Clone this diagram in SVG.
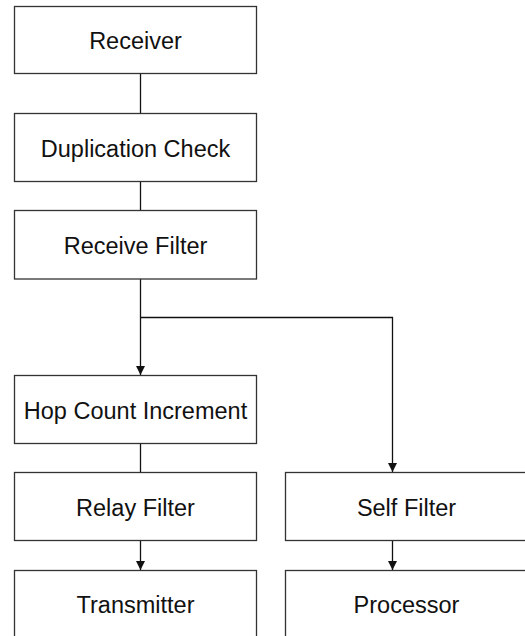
<svg xmlns="http://www.w3.org/2000/svg" width="525" height="636" viewBox="0 0 525 636">
<style>
.box{fill:#fff;stroke:#333;stroke-width:1.3}
.lbl{font-family:"Liberation Sans",Arial,sans-serif;font-size:23.5px;fill:#111;text-anchor:middle}
.con{fill:none;stroke:#111;stroke-width:1.3}
</style>
<defs>
<marker id="arr" viewBox="0 0 10 10" refX="10" refY="5" markerWidth="9" markerHeight="9" markerUnits="userSpaceOnUse" orient="auto">
<path d="M0,0 L10,5 L0,10 z" fill="#111"/>
</marker>
</defs>
<rect width="525" height="636" fill="#fff"/>
<g id="connectors">
<line class="con" x1="140.5" y1="73.5" x2="140.5" y2="113.5"/>
<line class="con" x1="140.5" y1="181.5" x2="140.5" y2="210.5"/>
<line class="con" x1="140.5" y1="279" x2="140.5" y2="375" marker-end="url(#arr)"/>
<polyline class="con" points="140.5,317.5 392.5,317.5 392.5,472" marker-end="url(#arr)"/>
<line class="con" x1="140.5" y1="443.5" x2="140.5" y2="472.5"/>
<line class="con" x1="140.5" y1="540.5" x2="140.5" y2="570" marker-end="url(#arr)"/>
<line class="con" x1="392.5" y1="540.5" x2="392.5" y2="570" marker-end="url(#arr)"/>
</g>
<g id="receiver"><rect class="box" x="14.5" y="6.5" width="242" height="67"/><text class="lbl" x="135.5" y="49">Receiver</text></g>
<g id="duplication-check"><rect class="box" x="14.5" y="113.5" width="242" height="68"/><text class="lbl" x="135.5" y="156.5">Duplication Check</text></g>
<g id="receive-filter"><rect class="box" x="14.5" y="210.5" width="242" height="68.5"/><text class="lbl" x="135.5" y="253.5">Receive Filter</text></g>
<g id="hop-count-increment"><rect class="box" x="14.5" y="375.5" width="242" height="68"/><text class="lbl" x="135.5" y="418.5">Hop Count Increment</text></g>
<g id="relay-filter"><rect class="box" x="14.5" y="472.5" width="242" height="68"/><text class="lbl" x="135.5" y="515.5">Relay Filter</text></g>
<g id="transmitter"><rect class="box" x="14.5" y="570.5" width="242" height="68"/><text class="lbl" x="135.5" y="613.3">Transmitter</text></g>
<g id="self-filter"><rect class="box" x="285.5" y="472.5" width="242" height="68"/><text class="lbl" x="406.5" y="515.5">Self Filter</text></g>
<g id="processor"><rect class="box" x="285.5" y="570.5" width="242" height="68"/><text class="lbl" x="406.5" y="613.3">Processor</text></g>
</svg>
